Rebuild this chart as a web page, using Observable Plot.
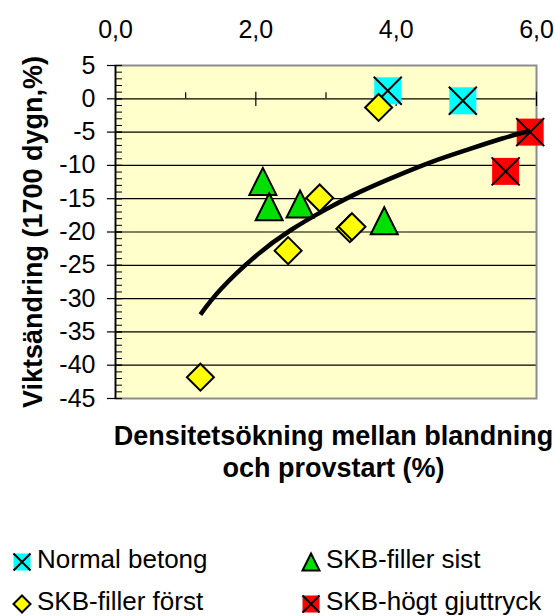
<!DOCTYPE html>
<html>
<head>
<meta charset="utf-8">
<script src="https://cdn.jsdelivr.net/npm/d3@7"></script>
<script src="https://cdn.jsdelivr.net/npm/@observablehq/plot@0.6"></script>
<style>
  html, body { margin: 0; padding: 0; background: #fff; }
  #wrap { position: relative; width: 555px; height: 616px; overflow: hidden; font-family: "Liberation Sans", Arial, sans-serif; color: #000; }
  #wrap svg.plot { position: absolute; left: 0; top: 0; }
  .xtitle { position: absolute; left: 111px; width: 445px; text-align: center; font-weight: bold; font-size: 27px; line-height: 32px; white-space: nowrap; }
  .leg { position: absolute; font-size: 26px; line-height: 32px; white-space: nowrap; }
  .leg svg { position: absolute; }
</style>
</head>
<body>
<div id="wrap"></div>
<script>
// ---- data ----
const seriesNames = ["Normal betong", "SKB-filler sist", "SKB-filler först", "SKB-högt gjuttryck"];

const normalX = [3.88, 4.95];
const normalY = [1.2, -0.3];

const sistX = [2.10, 2.19, 2.63, 3.83];
const sistY = [-12.4, -16.2, -15.8, -18.3];

const forstX = [3.75, 2.91, 3.34, 3.37, 2.46, 1.21];
const forstY = [-1.3, -14.9, -19.5, -19.2, -22.8, -41.8];

const hogtX = [5.91, 5.56];
const hogtY = [-5.0, -10.9];

// logarithmic trend line
const trendX = [1.21, 1.5, 2, 2.5, 3, 3.5, 4, 4.5, 5, 5.5, 5.91];
const trendY = [-32.4, -28.6, -23.6, -19.7, -16.6, -13.9, -11.6, -9.5, -7.7, -6.0, -4.8];

const xTicks = [0, 2, 4, 6];
const xTickLabels = ["0,0", "2,0", "4,0", "6,0"];
const yTicks = [5, 0, -5, -10, -15, -20, -25, -30, -35, -40, -45];
const yTickLabels = ["5", "0", "-5", "-10", "-15", "-20", "-25", "-30", "-35", "-40", "-45"];
const yGrid = [0, -5, -10, -15, -20, -25, -30, -35, -40];

const xTitle = ["Densitetsökning mellan blandning", "och provstart (%)"];
const yTitle = "Viktsändring (1700 dygn,%)";

// ---- marker shapes (Excel-like) ----
const sqSym = {draw(ctx, size) { const s = Math.sqrt(size) / 2; ctx.moveTo(-s, -s); ctx.lineTo(s, -s); ctx.lineTo(s, s); ctx.lineTo(-s, s); ctx.closePath(); }};
const xSym = {draw(ctx, size) { const s = Math.sqrt(size) / 2; ctx.moveTo(-s, -s); ctx.lineTo(s, s); ctx.moveTo(s, -s); ctx.lineTo(-s, s); }};
const diaSym = {draw(ctx, size) { const s = Math.sqrt(size) / 2; ctx.moveTo(0, -s); ctx.lineTo(s, 0); ctx.lineTo(0, s); ctx.lineTo(-s, 0); ctx.closePath(); }};
const triSym = {draw(ctx, size) { const s = Math.sqrt(size) / 2; ctx.moveTo(0, -s); ctx.lineTo(s, s); ctx.lineTo(-s, s); ctx.closePath(); }};
const rOf = side => side / Math.sqrt(Math.PI);

const CYAN = "#00ffff", GREEN = "#00e000", YELLOW = "#ffff00", RED = "#ff0000";

const pts = (xs, ys) => xs.map((x, i) => ({x, y: ys[i]}));
const normal = pts(normalX, normalY);
const sist = pts(sistX, sistY);
const forst = pts(forstX, forstY);
const hogt = pts(hogtX, hogtY);
const trend = pts(trendX, trendY);

const yMinor = d3.range(-45, 5.001, 1);
const xMinor = [1, 3, 5];
const xMajor = [2, 4, 6];

const plot = Plot.plot({
  width: 555,
  height: 420,
  marginLeft: 115,
  marginRight: 19,
  marginTop: 65,
  marginBottom: 22,
  x: {domain: [0, 6]},
  y: {domain: [-45, 5]},
  style: {fontFamily: "'Liberation Sans', Arial, sans-serif", fontSize: "25px", color: "#000", background: "transparent", overflow: "visible"},
  marks: [
    Plot.frame({fill: "#ffffcc", stroke: null}),
    Plot.ruleY(yGrid, {stroke: "#000", strokeWidth: 1.2}),
    Plot.frame({stroke: "#8c8c8c", strokeWidth: 2}),
    Plot.ruleX([0], {stroke: "#000", strokeWidth: 1.6}),
    // y ticks
    Plot.ruleY(yTicks, {x1: -0.115, x2: 0.1, stroke: "#000", strokeWidth: 1.2}),
    Plot.ruleY(yMinor, {x1: 0, x2: 0.1, stroke: "#000", strokeWidth: 1}),
    // x ticks on the zero line
    Plot.ruleX(xMinor, {y1: 0, y2: 0.9, stroke: "#000", strokeWidth: 1.2}),
    Plot.ruleX(xMajor, {y1: -1.15, y2: 1.0, stroke: "#000", strokeWidth: 1.2}),
    Plot.axisX(xTicks, {anchor: "top", tickSize: 0, tickPadding: 28, fontSize: 25, label: null,
      tickFormat: d => xTickLabels[xTicks.indexOf(d)]}),
    Plot.axisY(yTicks, {anchor: "left", tickSize: 0, tickPadding: 20, fontSize: 25, label: null,
      tickFormat: d => yTickLabels[yTicks.indexOf(d)]}),
    Plot.text([yTitle], {frameAnchor: "left", dx: -82, rotate: -90, text: d => d, textAnchor: "middle", lineAnchor: "middle",
      fontSize: 27, fontWeight: "bold"}),
    // series
    Plot.dot(normal, {x: "x", y: "y", symbol: sqSym, r: rOf(27), fill: CYAN, stroke: null}),
    Plot.dot(normal, {x: "x", y: "y", symbol: xSym, r: rOf(28), stroke: "#000", strokeWidth: 2}),
    Plot.dot(sist, {x: "x", y: "y", symbol: triSym, r: rOf(27), fill: GREEN, stroke: "#000", strokeWidth: 2}),
    Plot.dot(forst, {x: "x", y: "y", symbol: diaSym, r: rOf(27), fill: YELLOW, stroke: "#000", strokeWidth: 2}),
    Plot.dot(hogt, {x: "x", y: "y", symbol: sqSym, r: rOf(27), fill: RED, stroke: null}),
    Plot.dot(hogt, {x: "x", y: "y", symbol: xSym, r: rOf(28), stroke: "#000", strokeWidth: 2}),
    Plot.line(trend, {x: "x", y: "y", curve: "natural", stroke: "#000", strokeWidth: 4.5, strokeLinecap: "butt"})
  ]
});
plot.classList.add("plot");
const wrap = document.getElementById("wrap");
wrap.appendChild(plot);

// x-axis title (below the chart)
xTitle.forEach((t, i) => {
  const d = document.createElement("div");
  d.className = "xtitle";
  d.style.top = (420 + i * 32) + "px";
  d.textContent = t;
  wrap.appendChild(d);
});

// legend
const legendItems = [
  {name: seriesNames[0], shapes: [[sqSym, CYAN, null], [xSym, null, "#000"]], left: 10, top: 543},
  {name: seriesNames[1], shapes: [[triSym, GREEN, "#000"]], left: 299, top: 543},
  {name: seriesNames[2], shapes: [[diaSym, YELLOW, "#000"]], left: 10, top: 585},
  {name: seriesNames[3], shapes: [[sqSym, RED, null], [xSym, null, "#000"]], left: 299, top: 585}
];
legendItems.forEach(it => {
  const d = document.createElement("div");
  d.className = "leg";
  d.style.left = it.left + "px";
  d.style.top = it.top + "px";
  d.style.paddingLeft = "27px";
  const s = d3.create("svg").attr("width", 24).attr("height", 24)
    .style("left", "0px").style("top", "7px");
  it.shapes.forEach(([sym, fill, stroke]) => {
    s.append("path").attr("transform", "translate(12,12)")
      .attr("d", d3.symbol(sym, 17 * 17)())
      .attr("fill", fill || "none")
      .attr("stroke", stroke || "none")
      .attr("stroke-width", 2);
  });
  d.appendChild(s.node());
  d.appendChild(document.createTextNode(it.name));
  wrap.appendChild(d);
});
</script>
</body>
</html>
